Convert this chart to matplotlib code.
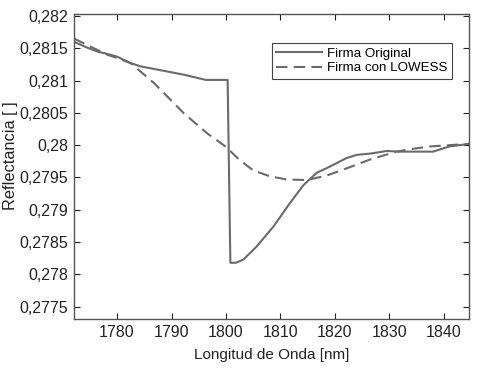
import matplotlib.pyplot as plt
from matplotlib.ticker import FuncFormatter

plt.rcParams["font.family"] = ["Liberation Sans", "DejaVu Sans"]

# Firma Original
wl_orig = [1772.1, 1774.5, 1776.7, 1777.9, 1780, 1782.5, 1784.3, 1788,
           1792.3, 1796.3, 1799.9, 1800.3, 1800.8, 1801.8, 1803.2, 1805.6,
           1808.7, 1811.7, 1814.2, 1816.6, 1819.1, 1822.1, 1824, 1826.5,
           1829.5, 1831.9, 1835, 1838, 1841, 1844.6]
refl_orig = [0.28160, 0.28151, 0.28144, 0.28142, 0.28137, 0.28127, 0.28122,
             0.28116, 0.28109, 0.28101, 0.28101, 0.28101, 0.27818, 0.27818,
             0.27823, 0.27843, 0.27874, 0.27910, 0.27938, 0.27957, 0.27967,
             0.27980, 0.27985, 0.27987, 0.27991, 0.27990, 0.27990, 0.27990,
             0.27998, 0.28002]

# Firma con LOWESS
wl_low = [1772.1, 1775, 1778.2, 1780, 1782.5, 1786.8, 1792.3, 1796.6,
          1799.9, 1802.5, 1805, 1808, 1811.1, 1814.8, 1818.5, 1822.1,
          1826.5, 1831.3, 1834, 1837.4, 1841, 1844.6]
refl_low = [0.28165, 0.28153, 0.28140, 0.28135, 0.28127, 0.28096, 0.28049,
            0.28018, 0.27998, 0.27977, 0.27961, 0.27952, 0.27947, 0.27946,
            0.27953, 0.27964, 0.27978, 0.27990, 0.27994, 0.27998, 0.28000,
            0.28002]

fig = plt.figure(figsize=(4.86, 3.8), dpi=100)
ax = fig.add_axes([74 / 486, 1 - 319 / 380, 395 / 486, 305 / 380])

ax.plot(wl_orig, refl_orig, color="#6a6a6a", lw=1.5, label="Firma Original")
ax.plot(wl_low, refl_low, color="#6a6a6a", lw=1.5, ls=(0, (5.5, 3)),
        label="Firma con LOWESS")

ax.set_xlim(1772.1, 1844.6)
ax.set_ylim(0.27731, 0.28203)
ax.set_xticks([1780, 1790, 1800, 1810, 1820, 1830, 1840])
ax.set_yticks([0.2775, 0.278, 0.2785, 0.279, 0.2795, 0.28, 0.2805, 0.281,
               0.2815, 0.282])
ax.yaxis.set_major_formatter(
    FuncFormatter(lambda v, p: ("%g" % round(v, 5)).replace(".", ",")))

ax.tick_params(direction="in", top=True, right=True, length=4,
               labelsize=11.5, colors="#222222", width=0.8, pad=4)
for s in ax.spines.values():
    s.set_color("#555555")
    s.set_linewidth(1.0)

ax.set_xlabel("Longitud de Onda [nm]", fontsize=11, color="#222222",
              labelpad=6)
ax.set_ylabel("Reflectancia [ ]", fontsize=11.8, color="#222222")
ax.yaxis.set_label_coords(-0.143, 0.535)

leg = ax.legend(loc="upper right", bbox_to_anchor=(0.957, 0.905),
                borderaxespad=0, fontsize=9.6, fancybox=False, framealpha=1,
                borderpad=0.35, handlelength=3.4, labelspacing=0.15,
                handletextpad=0.4)
leg.get_frame().set_edgecolor("#444444")
leg.get_frame().set_linewidth(0.8)

fig.savefig("out.png", dpi=100)
